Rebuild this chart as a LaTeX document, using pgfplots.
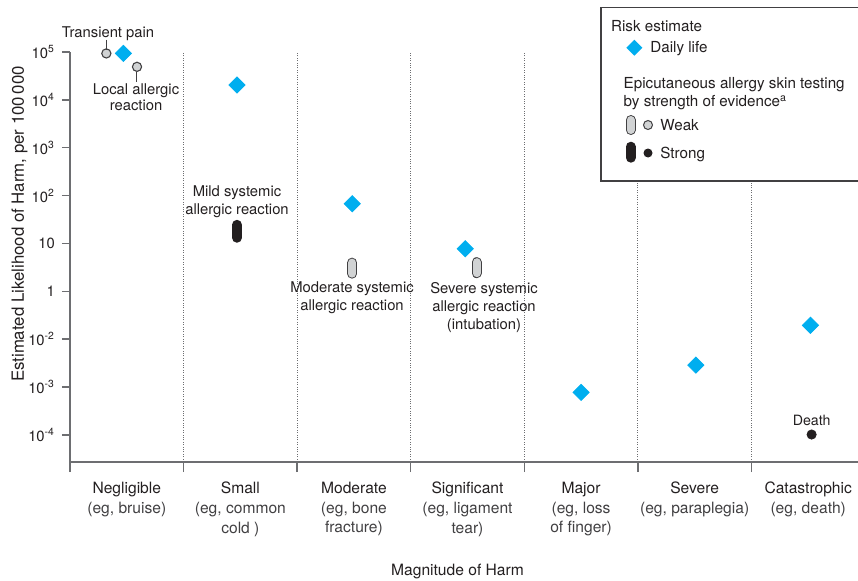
\documentclass[border=0pt]{standalone}
\usepackage{fontspec}
\setmainfont{TeX Gyre Heros}
\usepackage{pgfplots}
\pgfplotsset{compat=1.18}
\definecolor{dcyan}{HTML}{00AEEF}
\definecolor{wfill}{HTML}{D1D3D4}
\definecolor{wline}{HTML}{414042}
\definecolor{sblack}{HTML}{231F20}
\definecolor{axgray}{HTML}{6D6E71}
\definecolor{txt}{HTML}{231F20}
\definecolor{txt2}{HTML}{414042}
\newcommand{\fa}{\fontsize{7.4}{8.85}\selectfont}
\newcommand{\fc}{\fontsize{7.8}{9.85}\selectfont}
\newcommand{\fl}{\fontsize{7.6}{9}\selectfont}
\begin{document}
\begin{tikzpicture}[text=txt]
\begin{axis}[name=ax,
  scale only axis, width=397.5pt, height=205pt,
  xmin=-0.5, xmax=6.5, ymin=-0.564, ymax=8,
  axis x line=bottom, axis y line=left,
  axis line style={-, draw=axgray, line width=0.75pt},
  tick align=outside,
  major tick length=4pt, minor tick length=5pt,
  tick style={draw=axgray, line width=0.75pt},
  every major x tick/.append style={draw=none},
  xtick={0,...,6},
  minor xtick={-0.5,0.5,...,6.5},
  xminorgrids=true,
  minor x grid style={draw=axgray, line width=0.5pt, dash pattern=on 0.5pt off 0.7pt},
  xticklabels={
    {Negligible\\\textcolor{txt2}{(eg, bruise)}},
    {Small\\\textcolor{txt2}{(eg, common}\\\textcolor{txt2}{cold )}},
    {Moderate\\\textcolor{txt2}{(eg, bone}\\\textcolor{txt2}{fracture)}},
    {Significant\\\textcolor{txt2}{(eg, ligament}\\\textcolor{txt2}{tear)}},
    {Major\\\textcolor{txt2}{(eg, loss}\\\textcolor{txt2}{of finger)}},
    {Severe\\\textcolor{txt2}{(eg, paraplegia)}},
    {Catastrophic\\\textcolor{txt2}{(eg, death)}}},
  xticklabel style={align=center, font=\fc, yshift=-2.5pt, text=txt},
  ytick={0,...,8},
  yticklabels={10\textsuperscript{-4},10\textsuperscript{-3},10\textsuperscript{-2},1,10,10\textsuperscript{2},10\textsuperscript{3},10\textsuperscript{4},10\textsuperscript{5}},
  yticklabel style={font=\fa, text=txt},
  clip=false,
]
% y = position on the (broken) decade axis: 0=1e-4, 1=1e-3, 2=1e-2, 3=1, 4=10, 5=1e2, 6=1e3, 7=1e4, 8=1e5
% Daily life risk estimates
\addplot[only marks, mark=square*, mark size=2.85pt, color=dcyan, mark options={rotate=45, fill=dcyan, draw=none}]
  coordinates {(-0.03,7.97) (0.97,7.31) (1.985,4.83) (2.98,3.89) (4.00,0.89) (5.01,1.46) (6.02,2.29)};
% Weak evidence, point estimates
\addplot[only marks, mark=*, mark size=2.3pt, color=wline, mark options={fill=wfill, draw=wline, line width=0.55pt}]
  coordinates {(-0.18,7.97) (0.09,7.69)};
% Strong evidence, point estimate (death)
\addplot[only marks, mark=*, mark size=2.3pt, color=sblack, mark options={fill=sblack, draw=none}]
  coordinates {(6.03,0.01)};
% Weak evidence, ranges
\addplot[mark=none, wline, line width=5pt, line cap=round] coordinates {(1.985,3.37) (1.985,3.60)};
\addplot[mark=none, wfill, line width=4pt, line cap=round] coordinates {(1.985,3.37) (1.985,3.60)};
\addplot[mark=none, wline, line width=5pt, line cap=round] coordinates {(3.08,3.38) (3.08,3.61)};
\addplot[mark=none, wfill, line width=4pt, line cap=round] coordinates {(3.08,3.38) (3.08,3.61)};
% Strong evidence, range
\addplot[mark=none, sblack, line width=5pt, line cap=round] coordinates {(0.97,4.12) (0.97,4.39)};
\end{axis}
\begin{scope}[shift={([shift={(-35pt,231pt)}]ax.south west)}, x=0.5pt, y=-0.5pt]
  % axis titles
  \node[rotate=90, anchor=base, inner sep=0, font=\fontsize{8.4}{10}\selectfont] at (24,224) {Estimated Likelihood of Harm, per 100\,000};
  \node[anchor=base, inner sep=0, font=\fc] at (457.5,575) {Magnitude of Harm};
  % annotations
  \draw[wline, line width=0.5pt] (106.5,39.5) -- (106.5,49.5);
  \draw[wline, line width=0.5pt] (137,71.5) -- (137,82);
  \begin{scope}[every node/.style={anchor=base, inner sep=0, font=\fa}]
    \node at (108,37.5) {Transient pain};
    \node at (136,94) {Local allergic};
    \node at (136,111) {reaction};
    \node at (237,196.5) {Mild systemic};
    \node at (237,214) {allergic reaction};
    \node at (352,292) {Moderate systemic};
    \node at (352,310) {allergic reaction};
    \node at (484,293) {Severe systemic};
    \node at (484,311) {allergic reaction};
    \node at (484,329) {(intubation)};
    \node[font=\fontsize{7.1}{8.5}\selectfont] at (811.7,425) {Death};
  \end{scope}
  % legend
  \draw[wline, line width=0.6pt, fill=white] (601,7.3) rectangle (890,181);
  \begin{scope}[every node/.style={anchor=base west, inner sep=0, font=\fl}]
    \node at (610.7,31.7) {Risk estimate};
    \node at (650,52.7) {Daily life};
    \node at (623.3,88.3) {Epicutaneous allergy skin testing};
    \node at (623.3,106.7) {by strength of evidence\textsuperscript{a}};
    \node at (660,130) {Weak};
    \node at (660,158) {Strong};
  \end{scope}
  \fill[dcyan] (634.3,39.7) -- (642.3,47.7) -- (634.3,55.7) -- (626.3,47.7) -- cycle;
  \draw[wline, line width=5pt, line cap=round] (630.7,120) -- (630.7,130);
  \draw[wfill, line width=4pt, line cap=round] (630.7,120) -- (630.7,130);
  \draw[wline, line width=0.5pt, fill=wfill] (648,125) circle[radius=2.25pt];
  \draw[sblack, line width=5pt, line cap=round] (630.7,146.7) -- (630.7,157.7);
  \fill[sblack] (648,153) circle[radius=2.25pt];
\end{scope}
\pgfresetboundingbox
\path[use as bounding box] ([shift={(-35pt,-59pt)}]ax.south west) rectangle ++(429pt,290pt);
\end{tikzpicture}
\end{document}
